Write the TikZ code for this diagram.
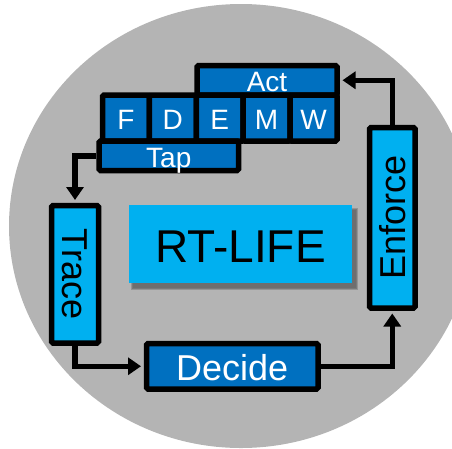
\documentclass[tikz,border=0pt]{standalone}
\usepackage{fontspec}
\setmainfont{Liberation Sans}
\usetikzlibrary{arrows.meta}
\definecolor{circgray}{HTML}{B4B4B4}
\definecolor{dkblue}{HTML}{0070C0}
\definecolor{ltblue}{HTML}{00B0F0}
\tikzset{
  box/.style={draw=black, line width=5.5pt, rounded corners=1.5pt, inner sep=0pt, text depth=0pt},
  dk/.style={box, fill=dkblue, text=white, font=\fontsize{28}{30}\selectfont, text height=21.5pt},
  lt/.style={box, fill=ltblue, text=black, font=\fontsize{36}{38}\selectfont, text height=25.8pt},
  cell/.style={dk, minimum width=46.9pt, minimum height=46pt, text height=22pt},
  conn/.style={line width=5.5pt, -{Triangle[length=13pt,width=17pt]}, shorten >=2.75pt},
}
\begin{document}
\begin{tikzpicture}[x=1pt,y=-1pt]
\useasboundingbox (0,0) rectangle (452,448);
\clip (0,0) rectangle (452,448);
% background disc
\fill[circgray] (241,226) ellipse [x radius=232pt, y radius=222pt];
% RT-LIFE shadow
\foreach \s in {0,1,2,3,4}{
  \fill[black, opacity=0.09] (129+4-\s*0.6,205+5-\s*0.6) rectangle (352+4+\s*0.6,283+5+\s*0.6);
}
\node[fill=ltblue, inner sep=0pt, minimum width=223pt, minimum height=78pt,
      text height=36pt, text depth=0pt, font=\fontsize{46}{48}\selectfont] (life) at (240.5,244) {RT-LIFE};
% pipeline
\node[dk, minimum width=140pt, minimum height=29.5pt] (act) at (267,80.25) {Act};
\node[cell] (f) at (125.95,118) {F};
\node[cell] (d) at (172.85,118) {D};
\node[cell] (e) at (219.75,118) {E};
\node[cell] (m) at (266.65,118) {M};
\node[cell] (w) at (313.55,118) {W};
\node[dk, minimum width=139.5pt, minimum height=29.5pt, text height=24pt] (tap) at (168.75,155.75) {Tap};
% stages
\node[lt, rotate=-90, minimum width=137.5pt, minimum height=47pt] (trace) at (75,274.25) {Trace};
\node[dk, font=\fontsize{36}{38}\selectfont, text height=27.5pt, minimum width=171.5pt, minimum height=45.5pt] (dec) at (232.25,366.25) {Decide};
\node[lt, rotate=90, minimum width=180.5pt, minimum height=45.5pt] (enf) at (392.25,217.75) {Enforce};
% connectors
\draw[conn] (tap.west) -| (trace.west);
\draw[conn] (trace.east) |- (dec.west);
\draw[conn] (dec.east) -| (enf.west);
\draw[conn] (enf.east) |- (act.east);
\end{tikzpicture}
\end{document}
